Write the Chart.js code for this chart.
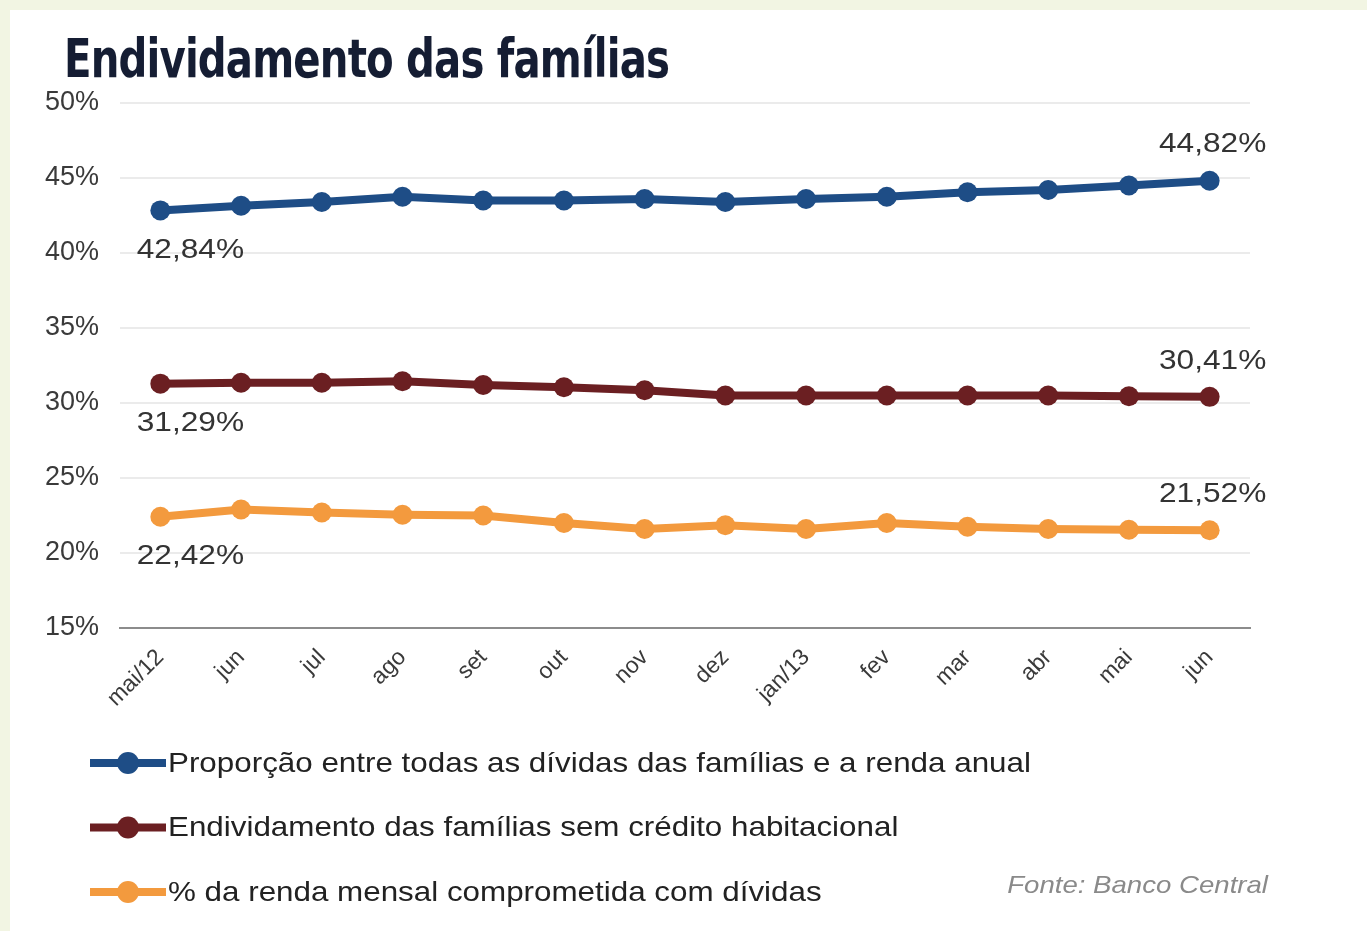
<!DOCTYPE html>
<html>
<head>
<meta charset="utf-8">
<script src="https://cdn.jsdelivr.net/npm/chart.js@4.4.1/dist/chart.umd.min.js"></script>
<style>
  body { margin: 0; background: #f2f5e3; }
  #card { position: absolute; left: 10px; top: 10px; right: 0; bottom: 0; background: #fff; }
  #title {
    position: absolute; left: 64px; top: 28px; margin: 0;
    font-family: "Liberation Sans Narrow", "DejaVu Sans Condensed", Arial, sans-serif;
    font-weight: bold; font-size: 53px; letter-spacing: -1px;
    color: #151d33;
    transform: scaleX(0.845); transform-origin: left top;
    white-space: nowrap;
  }
  #wrap { position: absolute; left: 0; top: 0; width: 1367px; height: 931px; }
</style>
</head>
<body>
<div id="card"></div>
<h1 id="title">Endividamento das famílias</h1>
<div id="wrap"><canvas id="myChart"></canvas></div>
<script>
const months = ['mai/12', 'jun', 'jul', 'ago', 'set', 'out', 'nov', 'dez', 'jan/13', 'fev', 'mar', 'abr', 'mai', 'jun'];

// proporção entre todas as dívidas e a renda anual
const dividasRenda = [42.84, 43.15, 43.4, 43.75, 43.5, 43.5, 43.6, 43.4, 43.6, 43.75, 44.05, 44.2, 44.5, 44.82];
// endividamento sem crédito habitacional
const semHabitacional = [31.29, 31.35, 31.35, 31.45, 31.2, 31.05, 30.85, 30.5, 30.5, 30.5, 30.5, 30.5, 30.45, 30.41];
// % da renda mensal comprometida
const rendaMensal = [22.42, 22.9, 22.7, 22.55, 22.5, 22.0, 21.6, 21.85, 21.6, 22.0, 21.75, 21.6, 21.55, 21.52];

const seriesNames = [
    'Proporção entre todas as dívidas das famílias e a renda anual',
    'Endividamento das famílias sem crédito habitacional',
    '% da renda mensal comprometida com dívidas'
];
const seriesColors = ['#1e4d86', '#6b1f22', '#f39a3e'];
const source = 'Fonte: Banco Central';

const FONT = '"Liberation Sans", Arial, sans-serif';

function fmt(v) {
    return v.toFixed(2).replace('.', ',') + '%';
}

// the original text is a bit wider than Arial, stretch it a little
function wideText(ctx, text, x, y, sx) {
    ctx.save();
    ctx.translate(x, y);
    ctx.scale(sx, 1);
    ctx.fillText(text, 0, 0);
    ctx.restore();
}

// value labels on first/last point, custom legend, source note
const extras = {
    id: 'extras',
    afterDatasetsDraw(chart) {
        const ctx = chart.ctx;
        ctx.save();
        ctx.font = '28px ' + FONT;
        ctx.fillStyle = '#333';
        ctx.textBaseline = 'middle';
        ctx.textAlign = 'center';
        chart.data.datasets.forEach((ds, i) => {
            const pts = chart.getDatasetMeta(i).data;
            const first = pts[0];
            const last = pts[pts.length - 1];
            wideText(ctx, fmt(ds.data[0]), first.x + 30, first.y + 40, 1.13);
            wideText(ctx, fmt(ds.data[ds.data.length - 1]), last.x + 3, last.y - 36, 1.13);
        });
        ctx.restore();
    },
    afterDraw(chart) {
        const ctx = chart.ctx;
        ctx.save();
        chart.data.datasets.forEach((ds, i) => {
            const y = 763 + i * 64.5;
            ctx.strokeStyle = ds.borderColor;
            ctx.lineWidth = 8;
            ctx.beginPath();
            ctx.moveTo(90, y);
            ctx.lineTo(166, y);
            ctx.stroke();
            ctx.fillStyle = ds.borderColor;
            ctx.beginPath();
            ctx.arc(128, y, 11, 0, Math.PI * 2);
            ctx.fill();
            ctx.fillStyle = '#222';
            ctx.font = '28px ' + FONT;
            ctx.textAlign = 'left';
            ctx.textBaseline = 'middle';
            wideText(ctx, ds.label, 168, y + 1, 1.12);
        });
        ctx.font = 'italic 24px ' + FONT;
        ctx.fillStyle = '#8a8a8a';
        ctx.textAlign = 'right';
        ctx.textBaseline = 'middle';
        wideText(ctx, source, 1268, 886, 1.15);
        ctx.restore();
    }
};

function mainEvent() {
    const ctx = document.querySelector('#myChart');
    const allSeries = [dividasRenda, semHabitacional, rendaMensal];

    new Chart(ctx, {
        type: 'line',
        data: {
            labels: months,
            datasets: allSeries.map((values, i) => ({
                label: seriesNames[i],
                data: values,
                borderColor: seriesColors[i],
                backgroundColor: seriesColors[i],
                borderWidth: 8,
                pointRadius: 10,
                pointBorderWidth: 0,
                tension: 0
            }))
        },
        options: {
            responsive: true,
            maintainAspectRatio: false,
            animation: false,
            layout: { padding: { left: 0, right: 117, top: 103, bottom: 203 } },
            plugins: {
                legend: { display: false },
                tooltip: { enabled: false }
            },
            scales: {
                x: {
                    offset: true,
                    afterFit: (scale) => { scale.height = 100; },
                    grid: { display: false },
                    border: { display: true, color: '#8c8c8c', width: 2 },
                    ticks: {
                        maxRotation: 45,
                        minRotation: 45,
                        padding: 8,
                        color: '#3a3a3a',
                        font: { family: FONT, size: 23 }
                    }
                },
                y: {
                    min: 15,
                    max: 50,
                    afterFit: (scale) => { scale.width = 120; },
                    border: { display: false },
                    grid: {
                        drawTicks: false,
                        color: (c) => c.tick && c.tick.value === 15 ? '#8c8c8c' : '#ebebeb',
                        lineWidth: 2
                    },
                    ticks: {
                        stepSize: 5,
                        padding: 21,
                        color: '#3a3a3a',
                        font: { family: FONT, size: 27 },
                        callback: (v) => v + '%'
                    }
                }
            }
        },
        plugins: [extras]
    });
}

document.addEventListener('DOMContentLoaded', () => mainEvent());
</script>
</body>
</html>
